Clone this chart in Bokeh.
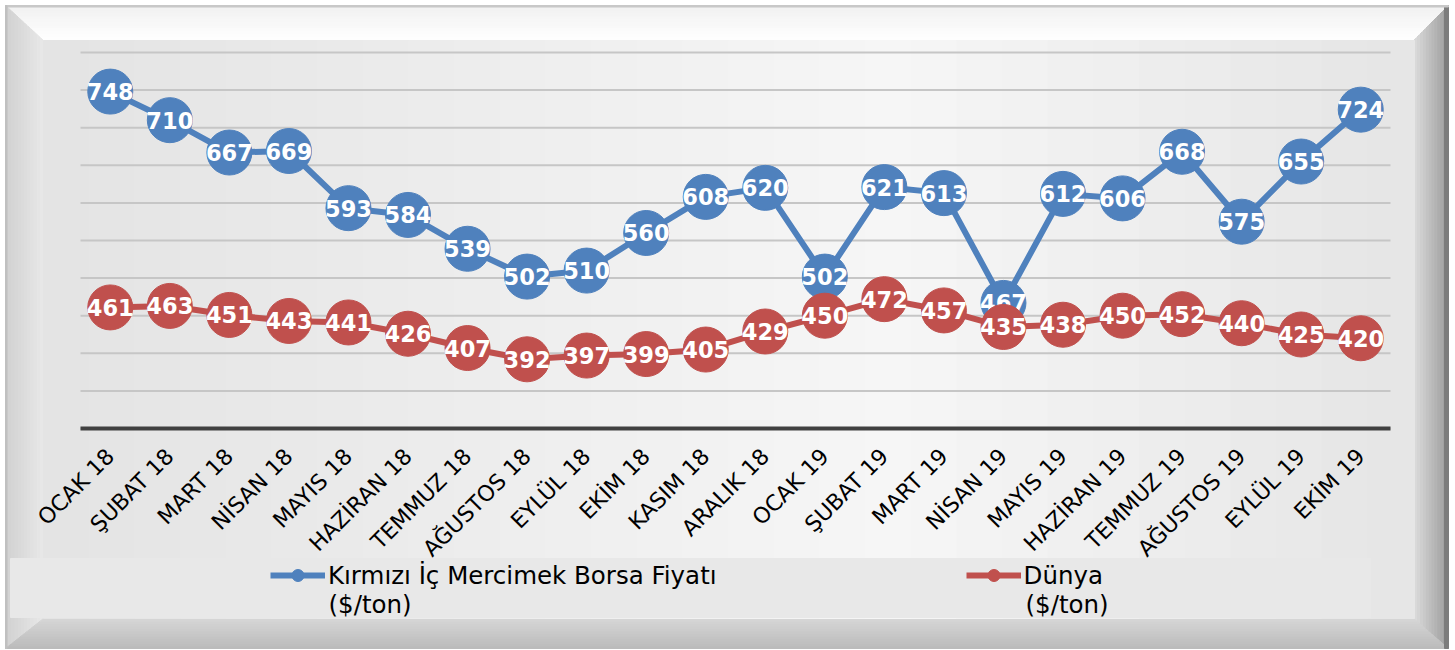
import math
from bokeh.plotting import figure
from bokeh.models import (Range1d, ColumnDataSource, Legend, LegendItem, Label,
                          PolyAnnotation, LinearAxis, FixedTicker)
from bokeh.core.properties import value
from bokeh.embed import file_html
from bokeh.resources import INLINE

# ---------------- data ----------------
months = ["OCAK 18", "ŞUBAT 18", "MART 18", "NİSAN 18", "MAYIS 18", "HAZİRAN 18",
          "TEMMUZ 18", "AĞUSTOS 18", "EYLÜL 18", "EKİM 18", "KASIM 18", "ARALIK 18",
          "OCAK 19", "ŞUBAT 19", "MART 19", "NİSAN 19", "MAYIS 19", "HAZİRAN 19",
          "TEMMUZ 19", "AĞUSTOS 19", "EYLÜL 19", "EKİM 19"]
borsa = [748, 710, 667, 669, 593, 584, 539, 502, 510, 560, 608, 620,
         502, 621, 613, 467, 612, 606, 668, 575, 655, 724]
dunya = [461, 463, 451, 443, 441, 426, 407, 392, 397, 399, 405, 429,
         450, 472, 457, 435, 438, 450, 452, 440, 425, 420]
series_names = ["Kırmızı İç Mercimek Borsa Fiyatı", "Dünya"]
unit_label = "($/ton)"
y_ticks = list(range(300, 801, 50))

BLUE = "#4f81bd"
RED = "#c0504d"
FONT = "DejaVu Sans"

# ---------------- layout geometry (pixels) ----------------
W, H = 1452, 649
PL, PR, PT, PB = 80, 1390, 52, 428          # plot area inside the canvas
n = len(months)
CW = (PR - PL) / n
PPU = (PB - PT) / (y_ticks[-1] - y_ticks[0])
x_idx = list(range(n))

p = figure(width=W, height=H,
           x_range=Range1d(-0.5 - PL / CW, n - 0.5 + (W - PR) / CW),
           y_range=Range1d(y_ticks[0] - (H - PB) / PPU, y_ticks[-1] + PT / PPU),
           x_axis_type=None, y_axis_type=None,
           output_backend="svg", toolbar_location=None, min_border=0)
p.border_fill_color = "#ffffff"
p.background_fill_color = "#ffffff"
p.outline_line_color = None
p.xgrid.visible = False
p.ygrid.visible = False

# ---------------- bevelled frame (screen units, y up from bottom) ----------------
outer = (5, 5, 1448, 648)
inner = (43, 40, 1413, 618)


def rect_at(f):
    return tuple(o + f * (i - o) for o, i in zip(outer, inner))


def mix(c0, c1, t):
    a = [int(c0[k:k + 2], 16) for k in (1, 3, 5)]
    b = [int(c1[k:k + 2], 16) for k in (1, 3, 5)]
    return "#%02x%02x%02x" % tuple(round(x + (y - x) * t) for x, y in zip(a, b))


def add_poly(xs, ys, color):
    p.add_layout(PolyAnnotation(xs=xs, ys=[H - y for y in ys],
                                xs_units="screen", ys_units="screen",
                                fill_color=color, fill_alpha=1, line_color=color,
                                line_alpha=1, line_width=1, level="image"))


side_cols = {
    "top": ("#f0f0f0", "#ffffff"),
    "left": ("#d0d0d0", "#e8e8e8"),
    "right": ("#9a9a9a", "#dcdcdc"),
    "bottom": ("#bababa", "#d6d6d6"),
}
N = 12
for k in range(N):
    f0, f1 = k / N, (k + 1) / N
    a0, a1 = rect_at(f0), rect_at(f1)
    t = (k + 0.5) / N
    add_poly([a0[0], a0[2], a1[2], a1[0]], [a0[1], a0[1], a1[1], a1[1]],
             mix(*side_cols["top"], t))
    add_poly([a0[0], a1[0], a1[0], a0[0]], [a0[1], a1[1], a1[3], a0[3]],
             mix(*side_cols["left"], t))
    add_poly([a0[2], a1[2], a1[2], a0[2]], [a0[1], a1[1], a1[3], a0[3]],
             mix(*side_cols["right"], t))
    add_poly([a0[0], a0[2], a1[2], a1[0]], [a0[3], a0[3], a1[3], a1[3]],
             mix(*side_cols["bottom"], t))

# thin outer edge lines
add_poly([1444, 1448, 1448, 1444], [5, 5, 648, 648], "#7c7c7c")
add_poly([5, 1448, 1448, 5], [5, 5, 6.5, 6.5], "#c8c8c8")
add_poly([5, 6.5, 6.5, 5], [5, 5, 648, 648], "#c0c0c0")

# inner face, horizontal gradient
fx0, fy0, fx1, fy1 = inner
NF = 30
for k in range(NF):
    xa = fx0 + (fx1 - fx0) * k / NF
    xb = fx0 + (fx1 - fx0) * (k + 1) / NF + 1
    t = (k + 0.5) / NF
    if t < 0.62:
        c = mix("#e3e3e3", "#f6f6f6", t / 0.62)
    else:
        c = mix("#f6f6f6", "#e5e5e5", (t - 0.62) / 0.38)
    add_poly([xa, xb, xb, xa], [fy0, fy0, fy1, fy1], c)

# legend band
add_poly([10, 1370, 1370, 10], [558, 558, 617, 617], "#e8e8e8")

# ---------------- grid + axis ----------------
p.segment(x0=[-0.5] * len(y_ticks), x1=[n - 0.5] * len(y_ticks), y0=y_ticks, y1=y_ticks,
          line_color="#c6c6c6", line_width=2)

xax = LinearAxis(ticker=FixedTicker(ticks=x_idx),
                 major_label_overrides={i: m for i, m in zip(x_idx, months)},
                 fixed_location=y_ticks[0], bounds=(-0.5, n - 0.5))
xax.axis_line_color = "#404040"
xax.axis_line_width = 4
xax.major_tick_line_color = None
xax.minor_tick_line_color = None
xax.major_label_orientation = math.pi / 4
xax.major_label_text_font = FONT
xax.major_label_text_font_size = "22px"
xax.major_label_text_color = "#000000"
xax.major_label_standoff = 18
p.add_layout(xax, "below")

# ---------------- series ----------------
src = ColumnDataSource(dict(x=x_idx, b=borsa, d=dunya,
                            bl=[str(v) for v in borsa], dl=[str(v) for v in dunya]))

lb = p.line("x", "b", source=src, line_color=BLUE, line_width=6)
cb = p.scatter("x", "b", source=src, size=45, fill_color=BLUE, line_color=BLUE)
p.text("x", "b", text="bl", source=src, text_align="center", text_baseline="middle",
       text_color="white", text_font=value(FONT), text_font_style="bold",
       text_font_size="22.5px")

ld = p.line("x", "d", source=src, line_color=RED, line_width=6)
cd = p.scatter("x", "d", source=src, size=45, fill_color=RED, line_color=RED)
p.text("x", "d", text="dl", source=src, text_align="center", text_baseline="middle",
       text_color="white", text_font=value(FONT), text_font_style="bold",
       text_font_size="22.5px")

LEG_FS = "24.5px"
legend = Legend(items=[LegendItem(label=series_names[0], renderers=[lb, cb]),
                       LegendItem(label=series_names[1], renderers=[ld, cd])],
                location=(270, H - 590), orientation="horizontal",
                label_text_font=FONT, label_text_font_size=LEG_FS,
                label_text_color="#000000", glyph_width=55, glyph_height=30,
                label_standoff=3, spacing=249, padding=0, margin=0,
                background_fill_alpha=0, border_line_color=None)
p.add_layout(legend, "center")

for lx in (328, 1025):
    p.add_layout(Label(x=lx, y=H - 604, x_units="screen", y_units="screen",
                       text=unit_label, text_font=FONT, text_font_size=LEG_FS,
                       text_color="#000000", text_baseline="middle", text_align="left"))

open("out.html", "w").write(file_html(p, INLINE))
